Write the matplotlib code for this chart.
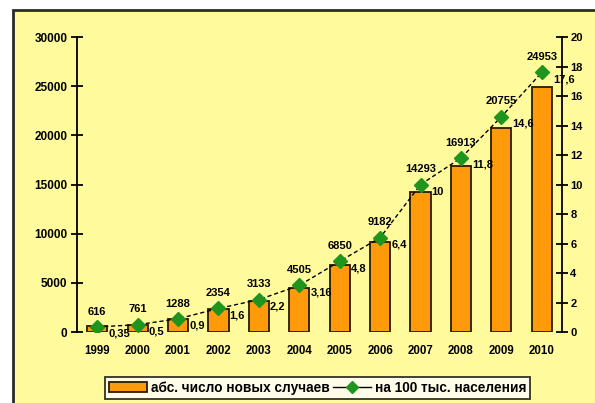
import matplotlib
matplotlib.use("Agg")
import matplotlib.pyplot as plt
from matplotlib.patches import Rectangle
import numpy as np

# new cases per year: absolute count and rate per 100k population
years = ["1999", "2000", "2001", "2002", "2003", "2004",
         "2005", "2006", "2007", "2008", "2009", "2010"]
cases = [616, 761, 1288, 2354, 3133, 4505, 6850, 9182, 14293, 16913, 20755, 24953]
rate = [0.35, 0.5, 0.9, 1.6, 2.2, 3.16, 4.8, 6.4, 10, 11.8, 14.6, 17.6]
rate_labels = ["0,35", "0,5", "0,9", "1,6", "2,2", "3,16", "4,8", "6,4",
               "10", "11,8", "14,6", "17,6"]
left_ticks = [0, 5000, 10000, 15000, 20000, 25000, 30000]
right_ticks = [0, 2, 4, 6, 8, 10, 12, 14, 16, 18, 20]

YELLOW = "#FFFA9C"
ORANGE = "#FF9A0A"
GREEN = "#1F941F"

plt.rcParams["font.family"] = ["Liberation Sans", "DejaVu Sans"]
plt.rcParams["font.weight"] = "bold"

fig = plt.figure(figsize=(5.95, 4.03), dpi=100)
fig.patch.set_facecolor("white")
# yellow panel with a dark frame on top and left
fig.patches.append(Rectangle((13 / 595, -0.2), 1.2, 1.2 - 10 / 403,
                             transform=fig.transFigure, facecolor=YELLOW,
                             edgecolor="#2b2b2b", linewidth=2, zorder=-5))

ax = fig.add_axes([0.1294, 0.176, 0.8151, 0.732])
ax.set_facecolor("none")
x = np.arange(len(years))
bars = ax.bar(x, cases, width=0.5, color=ORANGE, edgecolor="#2a1a00", linewidth=1.3, zorder=2)
ax.set_ylim(0, 30000)
ax.set_xlim(-0.5, len(years) - 0.5)
ax.set_yticks(left_ticks)
ax.set_yticklabels([str(v) for v in left_ticks], fontsize=8.5, fontweight="bold")
ax.set_xticks(x)
ax.set_xticklabels(years, fontsize=8.3, fontweight="bold")
ax.tick_params(axis="x", length=0, pad=9)
ax.tick_params(axis="y", direction="inout", length=8, width=1.3, pad=3)
for s in ["top", "bottom"]:
    ax.spines[s].set_visible(False)
ax.spines["right"].set_visible(False)
ax.spines["left"].set_linewidth(1.3)

ax2 = ax.twinx()
ax2.set_ylim(0, 20)
ax2.set_yticks(right_ticks)
ax2.set_yticklabels([str(v) for v in right_ticks], fontsize=8, fontweight="bold")
ax2.tick_params(axis="y", direction="inout", length=8, width=1.3, pad=2)
for s in ["top", "bottom", "left"]:
    ax2.spines[s].set_visible(False)
ax2.spines["right"].set_linewidth(1.3)
line, = ax2.plot(x, rate, color="black", linestyle=(0, (3, 2)), linewidth=1,
                 marker="D", markersize=7.5, markerfacecolor=GREEN,
                 markeredgecolor=GREEN, zorder=3)

for i in range(len(years)):
    ax2.annotate(str(cases[i]), (x[i], rate[i]), xytext=(0, 11),
                 textcoords="offset points", ha="center", va="center",
                 fontsize=8, fontweight="bold")
    ax2.annotate(rate_labels[i], (x[i], rate[i]), xytext=(8, -5),
                 textcoords="offset points", ha="left", va="center",
                 fontsize=8, fontweight="bold")

leg_line = plt.Line2D([], [], color="black", linewidth=1, marker="D",
                      markersize=6, markerfacecolor=GREEN, markeredgecolor=GREEN)
leg = fig.legend([bars, leg_line],
                 ["абс. число новых случаев", "на 100 тыс. населения"],
                 loc="center", bbox_to_anchor=(0.534, 0.038), ncol=2,
                 frameon=True, fancybox=False, borderpad=0.3,
                 handlelength=2.8, handletextpad=0.3, columnspacing=0.2,
                 prop={"weight": "bold", "size": 9.8})
leg.get_frame().set_edgecolor("black")
leg.get_frame().set_linewidth(1.3)
leg.get_frame().set_facecolor("white")

fig.savefig("out.png", dpi=100)
